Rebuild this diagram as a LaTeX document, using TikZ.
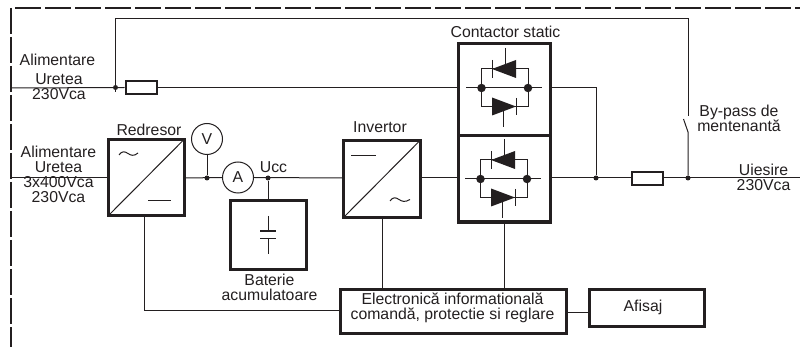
\documentclass[tikz,border=0pt]{standalone}
\usepackage{fontspec}
\setmainfont{Liberation Sans}
\definecolor{ink}{HTML}{231F20}
\tikzset{
  x=1pt,y=-1pt,
  wire/.style={draw=ink,line width=1pt},
  frame/.style={draw=ink,line width=2.2pt},
  thick box/.style={draw=ink,line width=3pt,fill=none,inner sep=0pt,outer sep=0pt,anchor=north west},
  heavy box/.style={draw=ink,line width=3.4pt,fill=none,inner sep=0pt,outer sep=0pt,anchor=north west},
  label/.style={font=\fontsize{15.8}{15}\selectfont,text=ink,inner sep=0pt,anchor=center,align=center},
  junction/.style={circle,fill=ink,inner sep=0pt,minimum size=5pt},
  bigdot/.style={circle,fill=ink,inner sep=0pt,minimum size=8.5pt},
  meter/.style={circle,draw=ink,line width=1pt,minimum size=31pt,inner sep=0pt,font=\fontsize{15.8}{16}\selectfont,text=ink},
  fuse/.style={draw=ink,line width=2pt,inner sep=0pt,minimum width=31pt,minimum height=13pt,fill=white},
}
\begin{document}
\begin{tikzpicture}
\useasboundingbox (0,0) rectangle (800,347);
% frame
\draw[frame,dash pattern=on 26pt off 4pt] (15,8) -- (800,8);
\draw[frame,dash pattern=on 26pt off 3pt] (11,8) -- (11,347);
% boxes
\node[thick box,minimum width=76pt,minimum height=76.5pt] (red) at (108,139.5) {};
\node[thick box,minimum width=76.5pt,minimum height=77pt] (inv) at (343.5,140.5) {};
\node[thick box,minimum width=76pt,minimum height=69pt] (bat) at (230,200.5) {};
\node[heavy box,minimum width=92pt,minimum height=92pt] (cs1) at (458.5,43.5) {};
\node[heavy box,minimum width=92pt,minimum height=86.5pt] (cs2) at (458.5,135.5) {};
\node[thick box,minimum width=226pt,minimum height=44pt] (elec) at (340,289.5) {};
\node[thick box,minimum width=115pt,minimum height=37pt] (afi) at (589,289.5) {};
\node[meter] (V) at (207,139) {V};
\node[meter] (A) at (238,177.5) {A};
\node[fuse] (f1) at (141,87.5) {};
\node[fuse] (f2) at (647,179) {};
% named junctions
\node[junction] (j0) at (115.5,87.5) {};
\node[junction] (jV) at (207,178) {};
\node[junction] (jU) at (268,178) {};
\node[junction] (jO) at (596,178) {};
\node[junction] (jB) at (688,178) {};
\coordinate (in1) at (12,88);
\coordinate (in2) at (12,178);
\coordinate (out) at (800,178);
\coordinate (tl) at (115.5,19);
\coordinate (tr) at (688,19);
\coordinate (swA) at (688,116);
\coordinate (swB) at (683.5,119);
\coordinate (swC) at (688,132);
\coordinate (tick) at (115.5,92);
% wires
\draw[wire] (in1) -- (f1.west);
\draw[wire] (f1.east) -- (cs1.west |- f1.east);
\draw[wire] (tick) -- (tl) -- (tr) -- (swA);
\draw[wire] (swB) -- (swC) -- (jB);
\draw[wire] (cs1.east |- f1.east) -| (jO);
\draw[wire] (in2) -- (red.west |- in2);
\draw[wire] (red.east |- in2) -- (A.west);
\draw[wire] (V.south) -- (jV);
\draw[wire] (A.east) -- (inv.west |- in2);
\draw[wire] (jU) -- (jU |- bat.north);
\draw[wire] (inv.east |- in2) -- (cs2.west |- in2);
\draw[wire] (cs2.east |- in2) -- (f2.west |- in2);
\draw[wire] (f2.east |- in2) -- (out);
\draw[wire] (144,216) -- (144,310) -- (elec.west |- 0,310);
\draw[wire] (382,217) -- (382,289);
\draw[wire] (504,222) -- (504,289);
\draw[wire] (elec.east |- 0,312) -- (afi.west |- 0,312);
% converter symbols
\draw[wire] (red.south west) -- (red.north east);
\draw[wire] (inv.south west) -- (inv.north east);
\draw[wire] (148,201) -- (171,201);
\draw[wire] (351,156) -- (376,156);
\draw[wire] (119,155) .. controls (122,150.5) and (125,151.5) .. (128,153.5) .. controls (131,155.5) and (134,156.5) .. (138,153);
\draw[wire] (390,201) .. controls (393,196.5) and (396,197.5) .. (399,199.5) .. controls (402,201.5) and (405,202.5) .. (410,199.5);
% capacitor
\draw[wire] (268,216) -- (268,231);
\draw[draw=ink,line width=2.2pt] (260,231) -- (276,231);
\draw[wire] (260,239) -- (276,239);
\draw[wire] (268,239) -- (268,254);
% thyristor bridges
\foreach \dx/\dy/\nm in {0/0/a,-1/91/b}{
  \begin{scope}[shift={(\dx,\dy)}]
    \draw[wire] (466,88) -- (542,88);
    \draw[wire] (481.5,88) |- (528,69) -- (528,88);
    \draw[wire] (481.5,88) |- (528,106.5) -- (528,88);
    \fill[ink] (492,69) -- (516,60) -- (516,78) -- cycle;
    \draw[wire] (492,60) -- (492,78);
    \draw[wire] (505,48) -- (505,64);
    \fill[ink] (492,97.5) -- (516,106.5) -- (492,115.5) -- cycle;
    \draw[wire] (516,98) -- (516,115);
    \draw[wire] (503,110) -- (503,127);
    \node[bigdot] (d1\nm) at (481.5,88) {};
    \node[bigdot] (d2\nm) at (528,88) {};
  \end{scope}
}
% labels
\node[label] (l1) at (57.5,60) {Alimentare};
\node[label] (l2) at (59,86.5) {Uretea\\230Vca};
\node[label] (l3) at (58.5,174.5) {Alimentare\\Uretea\\3x400Vca\\230Vca};
\node[label] (l4) at (149,130) {Redresor};
\node[label] (l5) at (273.5,167) {Ucc};
\node[label] (l6) at (380,127) {Invertor};
\node[label] (l7) at (505.5,32) {Contactor static};
\node[label] (l8) at (269.5,287) {Baterie\\acumulatoare};
\node[label] (l9) at (739,118.5) {By-pass de\\mentenantă};
\node[label] (l10) at (763.5,177.5) {Uiesire\\230Vca};
\node[label] (l11) at (452.5,307.5) {Electronică informatională\\comandă, protectie si reglare};
\node[label] (l12) at (643,307.5) {Afisaj};
\end{tikzpicture}
\end{document}
